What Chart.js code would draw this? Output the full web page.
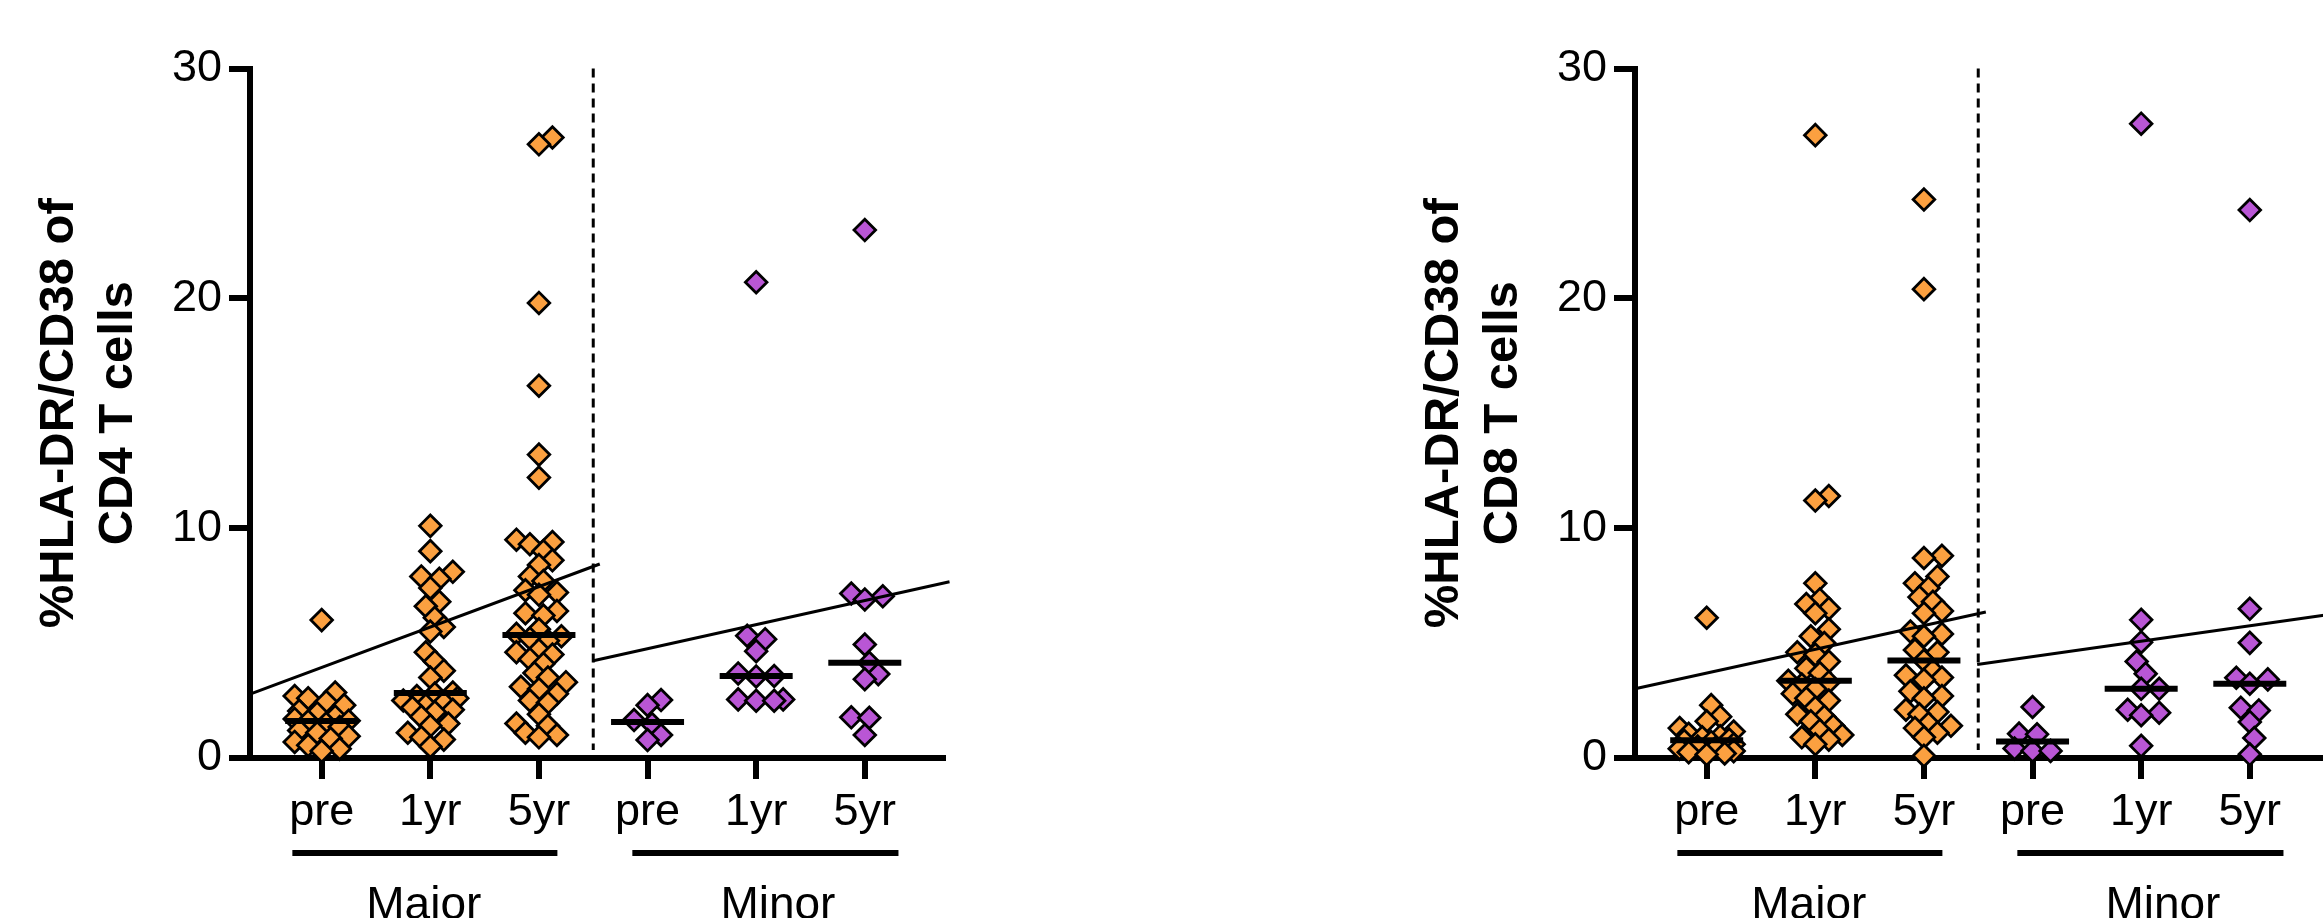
<!DOCTYPE html>
<html>
<head>
<meta charset="utf-8">
<script src="https://cdn.jsdelivr.net/npm/chart.js@4.4.1/dist/chart.umd.min.js"></script>
<style>
  html, body { margin: 0; padding: 0; background: #fff; overflow: hidden; }
  body { width: 2323px; height: 918px; position: relative; }
  canvas { position: absolute; top: 0; }
  #cd4-chart { left: 0; }
  #cd8-chart { left: 1385px; }
</style>
</head>
<body>
<canvas id="cd4-chart" width="1000" height="918"></canvas>
<canvas id="cd8-chart" width="1000" height="918"></canvas>
<script>
const timepoints = ["pre", "1yr", "5yr", "pre", "1yr", "5yr"];
const groupNames = ["Major", "Minor"];
const yTicks = [0, 10, 20, 30];

// CD4 panel, % HLA-DR/CD38
const cd4MajorPre = [6.0, 2.85, 2.7, 2.6, 2.45, 2.3, 2.05, 1.95, 1.8, 1.7, 1.62, 1.6, 1.5, 1.35, 1.2, 1.1, 0.95, 0.85, 0.7, 0.55, 0.4, 0.3];
const cd4Major1yr = [10.1, 9.0, 8.1, 7.9, 7.8, 7.4, 6.8, 6.6, 6.1, 5.7, 5.5, 4.6, 4.2, 3.8, 3.5, 2.85, 2.8, 2.7, 2.6, 2.5, 2.4, 2.3, 2.2, 2.1, 2.0, 1.8, 1.5, 1.4, 1.1, 0.9, 0.8, 0.5];
const cd4Major5yr = [27.0, 26.7, 19.8, 16.2, 13.2, 12.2, 9.5, 9.4, 9.3, 9.0, 8.6, 8.4, 7.9, 7.7, 7.3, 7.2, 7.1, 6.4, 6.3, 6.2, 5.6, 5.4, 5.3, 5.2, 5.1, 4.7, 4.6, 4.5, 4.3, 4.1, 3.7, 3.5, 3.3, 3.1, 3.0, 2.8, 2.5, 2.4, 1.9, 1.5, 1.4, 1.1, 1.0, 0.9];
const cd4MinorPre = [2.52, 2.3, 1.65, 1.48, 1.0, 0.78];
const cd4Minor1yr = [20.7, 5.32, 5.17, 4.65, 3.68, 3.57, 3.55, 2.55, 2.55, 2.49, 2.49];
const cd4Minor5yr = [22.97, 7.16, 7.04, 6.9, 4.94, 4.14, 3.65, 3.43, 1.77, 1.75, 1.0];
const cd4FitMajorX = [-0.66, 2.56];
const cd4FitMajorY = [2.78, 8.44];
const cd4FitMinorX = [2.5, 5.78];
const cd4FitMinorY = [4.23, 7.67];

// CD8 panel
const cd8MajorPre = [6.1, 2.3, 1.8, 1.6, 1.3, 1.15, 1.05, 0.95, 0.9, 0.8, 0.75, 0.7, 0.6, 0.5, 0.45, 0.4, 0.3, 0.25, 0.2, 0.15];
const cd8Major1yr = [27.1, 11.4, 11.2, 7.6, 6.9, 6.7, 6.5, 6.3, 5.6, 5.3, 5.0, 4.6, 4.5, 4.2, 3.9, 3.7, 3.36, 3.3, 3.2, 3.0, 2.8, 2.6, 2.5, 2.2, 1.9, 1.8, 1.6, 1.4, 1.2, 1.0, 0.9, 0.8, 0.6];
const cd8Major5yr = [24.3, 20.4, 8.8, 8.7, 7.9, 7.6, 7.4, 7.0, 6.8, 6.4, 6.3, 5.5, 5.4, 5.3, 4.7, 4.6, 4.24, 3.8, 3.6, 3.5, 3.4, 2.9, 2.7, 2.6, 2.1, 2.0, 1.9, 1.5, 1.4, 1.3, 1.1, 0.9, 0.1];
const cd8MinorPre = [2.22, 1.06, 1.03, 0.41, 0.31, 0.31];
const cd8Minor1yr = [27.6, 6.01, 5.04, 4.2, 3.67, 3.01, 3.01, 2.1, 1.97, 1.86, 0.53];
const cd8Minor5yr = [23.84, 6.49, 5.01, 3.49, 3.42, 3.23, 2.19, 2.07, 1.57, 0.87, 0.16];
const cd8FitMajorX = [-0.67, 2.57];
const cd8FitMajorY = [3.0, 6.35];
const cd8FitMinorX = [2.49, 5.78];
const cd8FitMinorY = [4.07, 6.28];

const FONT = "'Liberation Sans', Arial, sans-serif";
const orange = "#FBA040";
const purple = "#B956D5";

Chart.defaults.font.family = FONT;
Chart.defaults.color = "#000";

function median(arr) {
  const s = [...arr].sort((a, b) => a - b);
  const m = Math.floor(s.length / 2);
  return s.length % 2 ? s[m] : (s[m - 1] + s[m]) / 2;
}

// simple beeswarm: lowest points first, each one goes to the free slot closest to the centre
function swarmOffsets(pys, r, maxOff) {
  const step = r / 2;
  const cands = [0];
  for (let k = 1; k * step <= maxOff + 0.01; k++) cands.push(k * step, -k * step);
  const order = pys.map((_, i) => i).sort((a, b) => pys[b] - pys[a]);
  const placed = [];
  const offs = [];
  order.forEach((i) => {
    const y = pys[i];
    let best = 0;
    let bestCost = Infinity;
    for (const c of cands) {
      let cost = 0;
      placed.forEach((p) => {
        const d = Math.abs(c - p.x) + Math.abs(y - p.y);
        if (d < 2 * r) cost += 2 * r - d;
      });
      if (cost < bestCost - 1e-6) {
        bestCost = cost;
        best = c;
      }
      if (cost === 0) break;
    }
    offs[i] = best;
    placed.push({ x: best, y });
  });
  return offs;
}

function layoutSwarm(chart) {
  const xs = chart.scales.x;
  const ys = chart.scales.y;
  const unit = xs.getPixelForValue(1) - xs.getPixelForValue(0);
  chart.data.datasets.forEach((ds) => {
    if (!ds.values) return;
    const pys = ds.values.map((v) => ys.getPixelForValue(v));
    const offs = swarmOffsets(pys, 9, 27);
    ds.data = ds.values.map((v, i) => ({ x: ds.slot + offs[i] / unit, y: v }));
  });
  chart.update();
}

// dashed divider, group bars and Major / Minor labels under the axis
const groupAxis = {
  id: "groupAxis",
  beforeDatasetsDraw(chart, args, opts) {
    const { ctx } = chart;
    const x = chart.scales.x;
    const y = chart.scales.y;
    const dx = x.getPixelForValue(opts.dividerAt);
    ctx.save();
    ctx.strokeStyle = "#000";
    ctx.lineWidth = 3;
    ctx.setLineDash([9, 6]);
    ctx.beginPath();
    ctx.moveTo(dx, y.getPixelForValue(30));
    ctx.lineTo(dx, y.getPixelForValue(0) - 8);
    ctx.stroke();
    ctx.restore();
  },
  afterDraw(chart, args, opts) {
    const { ctx } = chart;
    const x = chart.scales.x;
    ctx.save();
    ctx.strokeStyle = "#000";
    ctx.fillStyle = "#000";
    ctx.lineWidth = 6;
    ctx.font = "46px " + FONT;
    ctx.textAlign = "center";
    ctx.textBaseline = "alphabetic";
    opts.spans.forEach(([a, b], i) => {
      const ly = x.top + 95;
      ctx.beginPath();
      ctx.moveTo(x.getPixelForValue(a), ly);
      ctx.lineTo(x.getPixelForValue(b), ly);
      ctx.stroke();
      ctx.fillText(groupNames[i], x.getPixelForValue(opts.labelAt[i]), x.top + 161);
    });
    ctx.restore();
  },
};

function buildPanel(id, titleLines, groups, fits) {
  const datasets = [];
  fits.forEach((f) => {
    datasets.push({
      type: "line",
      data: f.x.map((x, i) => ({ x, y: f.y[i] })),
      borderColor: "#000",
      borderWidth: 3,
      pointRadius: 0,
      fill: false,
      clip: false,
    });
  });
  datasets.push({
    type: "scatter",
    data: groups.map((g, i) => ({ x: i, y: median(g) })),
    pointStyle: "line",
    pointRadius: 36.5,
    pointHoverRadius: 36.5,
    pointBorderColor: "#000",
    pointBorderWidth: 6,
    clip: false,
  });
  groups.forEach((g, i) => {
    datasets.push({
      type: "scatter",
      values: g,
      slot: i,
      data: g.map((v) => ({ x: i, y: v })),
      pointStyle: "rectRot",
      pointRadius: 10.8,
      pointHoverRadius: 10.8,
      pointBackgroundColor: i < 3 ? orange : purple,
      pointBorderColor: "#000",
      pointBorderWidth: 2.8,
      clip: false,
    });
  });

  const chart = new Chart(document.getElementById(id), {
    type: "scatter",
    data: { datasets },
    plugins: [groupAxis],
    options: {
      responsive: false,
      animation: false,
      devicePixelRatio: 1,
      layout: { padding: { left: 0, top: 68.5, right: 57, bottom: 0 } },
      plugins: {
        legend: { display: false },
        tooltip: { enabled: false },
        groupAxis: { dividerAt: 2.5, spans: [[-0.27, 2.17], [2.86, 5.31]], labelAt: [0.94, 4.2] },
      },
      scales: {
        x: {
          type: "linear",
          position: "bottom",
          min: -0.66,
          max: 5.72,
          afterBuildTicks: (s) => { s.ticks = timepoints.map((_, i) => ({ value: i })); },
          afterFit: (s) => { s.height = 160; },
          ticks: {
            callback: (v, i) => timepoints[i],
            font: { size: 45 },
            color: "#000",
            padding: 7,
            maxRotation: 0,
            autoSkip: false,
          },
          grid: { drawOnChartArea: false, drawTicks: true, tickLength: 21, lineWidth: 6, color: "#000" },
          border: { display: true, width: 6, color: "#000" },
        },
        y: {
          min: 0,
          max: 30,
          afterBuildTicks: (s) => { s.ticks = yTicks.map((v) => ({ value: v })); },
          afterFit: (s) => { s.width = 250; },
          ticks: { font: { size: 45 }, color: "#000", padding: 7 },
          grid: { drawOnChartArea: false, drawTicks: true, tickLength: 21, lineWidth: 6, color: "#000" },
          border: { display: true, width: 6, color: "#000" },
          title: {
            display: true,
            text: titleLines,
            font: { size: 49, weight: "bold" },
            color: "#000",
            padding: { top: 30, bottom: 0 },
          },
        },
      },
    },
  });
  layoutSwarm(chart);
  return chart;
}

buildPanel(
  "cd4-chart",
  ["%HLA-DR/CD38 of", "CD4 T cells"],
  [cd4MajorPre, cd4Major1yr, cd4Major5yr, cd4MinorPre, cd4Minor1yr, cd4Minor5yr],
  [{ x: cd4FitMajorX, y: cd4FitMajorY }, { x: cd4FitMinorX, y: cd4FitMinorY }]
);

buildPanel(
  "cd8-chart",
  ["%HLA-DR/CD38 of", "CD8 T cells"],
  [cd8MajorPre, cd8Major1yr, cd8Major5yr, cd8MinorPre, cd8Minor1yr, cd8Minor5yr],
  [{ x: cd8FitMajorX, y: cd8FitMajorY }, { x: cd8FitMinorX, y: cd8FitMinorY }]
);
</script>
</body>
</html>
